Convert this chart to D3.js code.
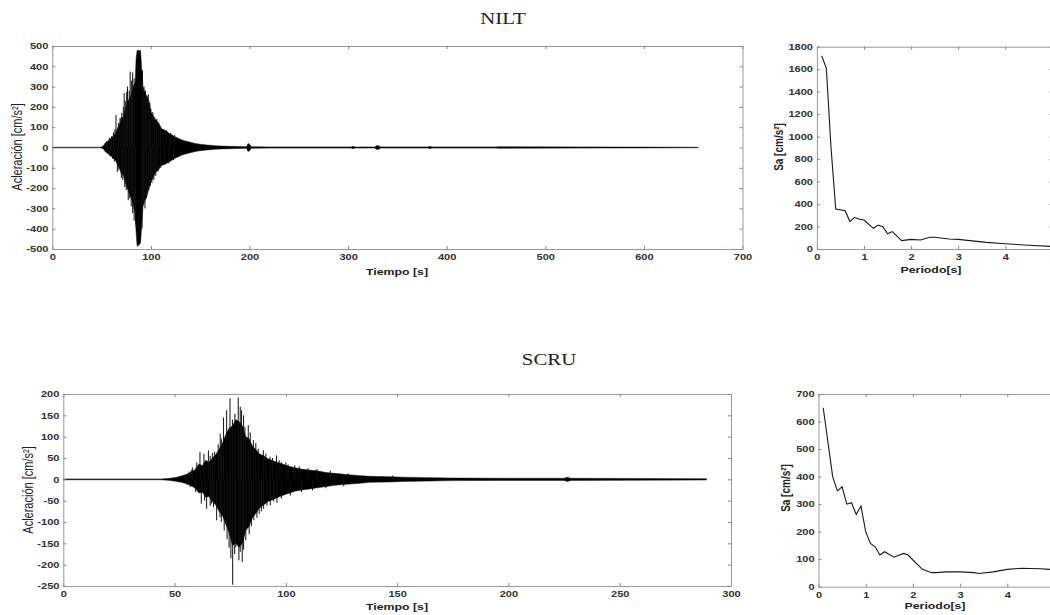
<!DOCTYPE html>
<html>
<head>
<meta charset="utf-8">
<script src="https://cdnjs.cloudflare.com/ajax/libs/d3/7.8.5/d3.min.js"></script>
<style>
  body { margin: 0; background: #fff; }
  svg { display: block; }
  .tick text { font-family: "Liberation Sans", Arial, sans-serif; font-weight: bold; font-size: 8.5px; fill: #333; }
  .domain { stroke: #999; }
  .tick line { stroke: #888; }
</style>
</head>
<body>
<svg id="chart" width="1050" height="615"></svg>
<script>
// ---- NILT accelerogram: envelope of the trace ----
const niltTime  = [0, 48, 50, 52, 54, 56, 58, 60, 62, 64, 66, 68, 70, 72, 74, 76, 78, 80, 82, 84,
                   85, 86, 88, 89.5, 90.5, 92, 94, 96, 98, 100, 102, 104, 106, 108, 110, 113, 116, 119, 122, 125,
                   128, 131, 135, 140, 145, 150, 157, 165, 172, 180, 190, 197, 198.5, 200, 202, 220, 260, 303, 305, 307,
                   327, 329, 331, 333, 381, 383, 385, 450, 452, 540, 600, 655];
const niltUpper = [1.5, 1.5, 3, 10, 25, 30, 42, 45, 60, 65, 95, 110, 150, 145, 190, 220, 240, 260, 300, 320,
                   440, 478, 478, 478, 400, 300, 270, 250, 230, 175, 160, 140, 130, 120, 95, 88, 80, 68, 60, 52,
                   45, 38, 32, 26, 20, 16, 12, 9, 7, 6, 5, 4, 20, 16, 4, 3, 3, 3, 6, 3,
                   3, 10, 9, 3, 3, 6, 3, 3, 4, 3, 2, 1.5];
const niltLower = [-1.5, -1.5, -3, -9, -22, -28, -38, -42, -55, -62, -85, -100, -130, -135, -170, -200, -225, -250, -280, -330,
                   -420, -486, -480, -470, -400, -290, -260, -240, -200, -170, -150, -130, -115, -110, -90, -85, -78, -70, -60, -52,
                   -45, -38, -32, -26, -20, -16, -12, -9, -7, -6, -5, -4, -20, -16, -4, -3, -3, -3, -6, -3,
                   -3, -10, -9, -3, -3, -6, -3, -3, -4, -3, -2, -1.5];
// single spikes sticking out of the envelope [time, value]
const niltSpikes = [[55, 30], [58, 48], [60, 55], [62, 75], [63.5, 90], [64.6, 160], [67, 120], [68.7, 145], [70.5, 170],
                    [72, 200], [72.9, 268], [74, 230], [75.4, 273], [76.3, 300], [78, 280], [79, 374], [80.5, 330],
                    [81.5, 370], [83, 340], [91.5, 380], [93, 300], [94.5, 280], [96, 255], [97.4, 262], [99, 220],
                    [100, 190], [102, 175], [104, 150], [106, 140], [108, 120], [110, 105], [113, 90], [116, 85],
                    [120, 72], [124, 60],
                    [56, -28], [59, -45], [61, -55], [63, -70], [66, -120], [67.5, -110], [70, -150], [71.5, -160],
                    [73.5, -195], [75, -210], [77, -260], [78.5, -250], [80, -290], [81.5, -323], [83, -360],
                    [84.5, -380], [91, -400], [92.5, -271], [94, -300], [95.5, -250], [98, -210], [99.5, -190],
                    [101, -175], [103, -160], [105, -140], [107, -120], [110, -100], [114, -85], [118, -78], [123, -62]];

// ---- NILT response spectrum ----
const niltPeriod = [0.1, 0.2, 0.3, 0.4, 0.6, 0.7, 0.8, 0.9, 1.0, 1.2, 1.3, 1.4, 1.5, 1.6, 1.8, 2.0, 2.2, 2.4, 2.5, 2.8, 3.0, 3.6, 4.0, 4.5, 5.0];
const niltSa     = [1720, 1610, 900, 355, 340, 245, 282, 264, 258, 184, 213, 199, 135, 155, 75, 86, 80, 105, 105, 89, 86, 59, 47, 33, 22];

// ---- SCRU accelerogram ----
const scruTime  = [0, 44, 48, 51, 53, 55, 57, 59, 61, 62.5, 64, 65.5, 67, 68.5, 70, 71.5, 73, 74.5, 76, 77.5,
                   79, 80.5, 82, 83.5, 85, 86.5, 88, 90, 92, 94, 96, 98.5, 101, 104, 107, 110, 114, 118, 122, 126,
                   132, 138, 147, 153, 165, 175, 200, 225, 226.5, 228, 260, 289];
const scruUpper = [1, 1, 2.5, 5, 8, 11, 16, 22, 36, 32, 45, 40, 50, 58, 70, 85, 105, 120, 125, 140,
                   135, 125, 100, 95, 78, 70, 60, 55, 48, 44, 40, 36, 31, 27, 24, 22, 20, 16, 14, 12,
                   9, 7, 6, 5, 4, 3, 2.5, 2.5, 5, 2.5, 2, 1.5];
const scruLower = [-1, -1, -2.5, -5, -7, -10, -14, -20, -32, -30, -42, -40, -52, -60, -75, -85, -105, -125, -155, -150,
                   -160, -150, -120, -110, -90, -80, -68, -60, -52, -48, -43, -38, -33, -28, -25, -23, -20, -17, -14, -12,
                   -10, -7, -6, -5, -4, -3, -2.5, -2.5, -5, -2.5, -2, -1.5];
const scruSpikes = [[55, 12], [56.5, 18], [57.5, 22], [58, 28], [60, 40], [61.4, 64], [63.2, 60], [65.2, 68], [66, 55],
                    [67, 62], [68, 65], [69.6, 82], [70.5, 107], [71, 95], [72, 145], [73.4, 162], [74.9, 190],
                    [76, 140], [77.1, 154], [78.6, 192], [79.5, 170], [80.1, 162], [81, 150], [81.6, 123], [83.1, 127],
                    [84, 110], [85.4, 92], [86.5, 85], [87.6, 72], [89.9, 68], [91, 60], [92.9, 53], [94, 50],
                    [95.8, 56], [97, 45], [98, 40], [100, 40], [101, 35], [104, 33], [106, 30], [110, 26], [114, 24],
                    [120, 20], [128, 14], [148, 9],
                    [55.5, -12], [57, -18], [59.5, -30], [62, -57], [63.5, -50], [64.4, -69], [66, -62], [66.6, -57],
                    [67.5, -65], [68.9, -96], [70.4, -89], [71, -100], [72.3, -120], [73.6, -140], [74.5, -160],
                    [75.3, -185], [76.1, -247], [77, -175], [77.5, -159], [78.9, -190], [79.5, -170], [80.4, -194],
                    [81, -165], [82, -143], [83.5, -128], [84.5, -110], [85.6, -96], [87, -90], [88, -81], [89, -75],
                    [90, -69], [91.5, -62], [93, -61], [94.5, -52], [96, -55], [98, -45], [102, -38], [107, -30],
                    [112, -26], [118, -21], [126, -16]];

// ---- SCRU response spectrum ----
const scruPeriod = [0.1, 0.2, 0.3, 0.4, 0.5, 0.6, 0.7, 0.8, 0.9, 1.0, 1.1, 1.2, 1.3, 1.4, 1.6, 1.8, 1.9, 2.0, 2.2, 2.4,
                    2.5, 2.7, 3.0, 3.3, 3.4, 3.7, 4.0, 4.3, 4.7, 5.0];
const scruSa     = [650, 525, 400, 348, 363, 300, 305, 262, 293, 200, 157, 145, 115, 127, 107, 121, 115, 97, 63, 51,
                    51, 54, 54, 51, 48, 54, 63, 67, 65, 62];

// tick values
const niltAccXTicks = d3.range(0, 701, 100);
const niltAccYTicks = d3.range(-500, 501, 100);
const niltSpXTicks  = [0, 1, 2, 3, 4, 5];
const niltSpYTicks  = d3.range(0, 1801, 200);
const scruAccXTicks = d3.range(0, 301, 50);
const scruAccYTicks = d3.range(-250, 201, 50);
const scruSpXTicks  = [0, 1, 2, 3, 4, 5];
const scruSpYTicks  = d3.range(0, 701, 100);

// the picture is stretched sideways, text too
const SX = 1.3;
var svg = d3.select('#chart');

function drawAxes(box, x, y, xTicks, yTicks) {
    const g = svg.append('g');
    const t = 3;
    const fmt = d => String(d);
    g.append('g').attr('transform', 'translate(0,' + box.bottom + ')')
        .call(d3.axisBottom(x).tickValues(xTicks).tickSizeInner(-t).tickSizeOuter(0).tickPadding(5).tickFormat(fmt));
    g.append('g').attr('transform', 'translate(0,' + box.top + ')')
        .call(d3.axisTop(x).tickValues(xTicks).tickSizeInner(-t).tickSizeOuter(0).tickFormat(''));
    g.append('g').attr('transform', 'translate(' + box.left + ',0)')
        .call(d3.axisLeft(y).tickValues(yTicks).tickSizeInner(-t).tickSizeOuter(0).tickPadding(3).tickFormat(fmt));
    g.append('g').attr('transform', 'translate(' + box.right + ',0)')
        .call(d3.axisRight(y).tickValues(yTicks).tickSizeInner(-t).tickSizeOuter(0).tickFormat(''));
    g.selectAll('.tick text').attr('transform', 'scale(' + SX + ',1)');
}

function label(txt, cx, cy, size, weight, rotate) {
    svg.append('text')
        .attr('transform', 'translate(' + cx + ',' + cy + ') scale(' + SX + ',1)' + (rotate ? ' rotate(-90)' : ''))
        .attr('text-anchor', 'middle')
        .attr('dy', '0.35em')
        .style('font-family', '"Liberation Sans", Arial, sans-serif')
        .style('font-size', size + 'px')
        .style('font-weight', weight)
        .style('fill', '#222')
        .text(txt);
}

function title(txt, cx, baseline) {
    svg.append('text')
        .attr('transform', 'translate(' + cx + ',' + baseline + ') scale(' + SX + ',1)')
        .attr('text-anchor', 'middle')
        .style('font-family', '"Liberation Serif", "Times New Roman", serif')
        .style('font-size', '16px')
        .style('fill', '#222')
        .text(txt);
}

function drawAccel(box, xDom, yDom, xTicks, yTicks, time, upper, lower, spikes) {
    const x = d3.scaleLinear().domain(xDom).range([box.left, box.right]);
    const y = d3.scaleLinear().domain(yDom).range([box.bottom, box.top]);

    const env = time.map((t, i) => ({t: t, hi: upper[i], lo: lower[i]}));
    const area = d3.area()
        .x(d => x(d.t))
        .y0(d => y(d.lo))
        .y1(d => y(d.hi));
    svg.append('path')
        .datum(env)
        .attr('d', area)
        .attr('fill', '#000')
        .attr('stroke', '#111')
        .attr('stroke-width', 0.5);

    svg.append('g').selectAll('line')
        .data(spikes)
        .enter()
        .append('line')
        .attr('x1', d => x(d[0]))
        .attr('x2', d => x(d[0]))
        .attr('y1', y(0))
        .attr('y2', d => y(d[1]))
        .attr('stroke', '#111')
        .attr('stroke-width', 1);

    drawAxes(box, x, y, xTicks, yTicks);
}

function drawSpectrum(box, xDom, yDom, xTicks, yTicks, period, sa) {
    const x = d3.scaleLinear().domain(xDom).range([box.left, box.right]);
    const y = d3.scaleLinear().domain(yDom).range([box.bottom, box.top]);
    const pts = period.map((p, i) => ({p: p, s: sa[i]}));
    const line = d3.line().x(d => x(d.p)).y(d => y(d.s));
    svg.append('path')
        .datum(pts)
        .attr('d', line)
        .attr('fill', 'none')
        .attr('stroke', '#1a1a1a')
        .attr('stroke-width', 1.1);
    drawAxes(box, x, y, xTicks, yTicks);
}

// ---- top row: NILT ----
title('NILT', 503, 24);
drawAccel({left: 52.3, right: 742.5, top: 46, bottom: 249}, [0, 700], [-500, 500],
    niltAccXTicks, niltAccYTicks, niltTime, niltUpper, niltLower, niltSpikes);
label('Tiempo [s]', 397, 272, 9.5, 'bold', false);
label('Acleración [cm/s²]', 17, 147, 11, 'normal', true);

drawSpectrum({left: 816.9, right: 1052.4, top: 46.7, bottom: 249}, [0, 5], [0, 1800],
    niltSpXTicks, niltSpYTicks, niltPeriod, niltSa);
label('Periodo[s]', 931, 270, 9.5, 'bold', false);
label('Sa [cm/s²]', 778, 147, 10, 'bold', true);

// ---- bottom row: SCRU ----
title('SCRU', 549, 365);
drawAccel({left: 63.3, right: 731, top: 394, bottom: 586}, [0, 300], [-250, 200],
    scruAccXTicks, scruAccYTicks, scruTime, scruUpper, scruLower, scruSpikes);
label('Tiempo [s]', 397, 607, 9.5, 'bold', false);
label('Acleración [cm/s²]', 27.5, 490, 11, 'normal', true);

drawSpectrum({left: 818.5, right: 1054.5, top: 394, bottom: 586.7}, [0, 5], [0, 700],
    scruSpXTicks, scruSpYTicks, scruPeriod, scruSa);
label('Periodo[s]', 935, 606, 9.5, 'bold', false);
label('Sa [cm/s²]', 785, 488, 10, 'bold', true);
</script>
</body>
</html>
